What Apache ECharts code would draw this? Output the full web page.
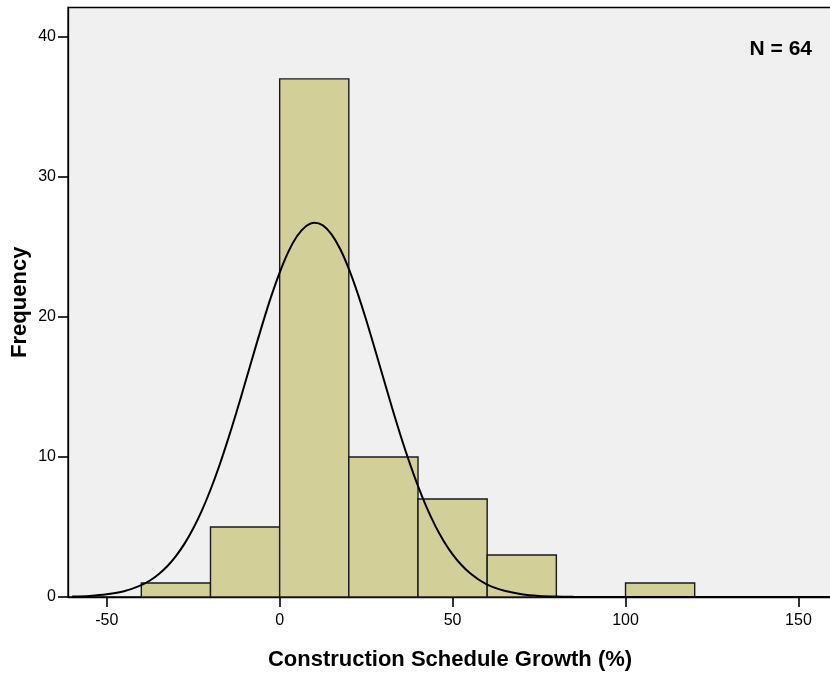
<!DOCTYPE html>
<html>
<head>
    <meta charset="utf-8">
    <title>Construction Schedule Growth</title>
    <script src="https://cdn.jsdelivr.net/npm/echarts@6/dist/echarts.min.js"></script>
    <style>
        html, body { margin: 0; padding: 0; background: #fff; }
    </style>
</head>
<body>
<div id="chart" style="width:830px;height:675px;"></div>
<script type="text/javascript">
    // histogram bins: [start, end] and frequency
    var binStart = [-40, -20, 0, 20, 40, 60, 100];
    var binEnd = [-20, 0, 20, 40, 60, 80, 120];
    var binCount = [1, 5, 37, 10, 7, 3, 1];

    // normal curve
    var curveX = [-60, -55, -50, -45, -40, -37.5, -35, -32.5, -30, -27.5, -25, -22.5, -20, -17.5, -15, -12.5, -10, -7.5, -5, -2.5,
        0, 2.5, 5, 7.5, 10, 12.5, 15, 17.5, 20, 22.5, 25, 27.5, 30, 32.5, 35, 37.5, 40, 42.5, 45, 47.5, 50, 52.5, 55, 57.5, 60, 62.5,
        65, 70, 75, 80, 85, 90, 100, 120, 140, 160];
    var curveY = [0.03, 0.08, 0.19, 0.41, 0.85, 1.18, 1.63, 2.2, 2.92, 3.81, 4.89, 6.17, 7.66, 9.34, 11.2, 13.19, 15.28, 17.4, 19.47, 21.43,
        23.17, 24.65, 25.76, 26.46, 26.73, 26.54, 25.9, 24.85, 23.43, 21.72, 19.8, 17.73, 15.62, 13.51, 11.5, 9.63, 7.92, 6.4, 5.08, 3.97, 3.05, 2.3, 1.71, 1.25, 0.89, 0.63,
        0.44, 0.2, 0.08, 0.03, 0.01, 0, 0, 0, 0, 0];

    var xTicks = [-50, 0, 50, 100, 150];
    var yTicks = [0, 10, 20, 30, 40];

    var bars = [];
    for (var i = 0; i < binCount.length; i++) {
        bars.push([binStart[i], binEnd[i], binCount[i]]);
    }
    var curve = [];
    for (var j = 0; j < curveX.length; j++) {
        curve.push([curveX[j], curveY[j]]);
    }

    var myChart = echarts.init(document.getElementById('chart'));
    var font = '"Liberation Sans", Arial, sans-serif';

    myChart.setOption({
        backgroundColor: '#ffffff',
        animation: false,
        grid: {
            left: 68, top: 7.5, right: -2, bottom: 78,
            outerBoundsMode: 'none',
            containLabel: false,
            show: true,
            backgroundColor: '#f0f0f0',
            borderColor: '#000',
            borderWidth: 1.3
        },
        xAxis: {
            type: 'value',
            min: -61.2,
            max: 159.7,
            name: 'Construction Schedule Growth (%)',
            nameLocation: 'middle',
            nameGap: 52,
            nameTextStyle: { fontFamily: font, fontSize: 22, fontWeight: 'bold', color: '#000' },
            splitLine: { show: false },
            axisLine: { show: true, onZero: false, lineStyle: { color: '#000', width: 1.3 } },
            axisTick: { show: true, length: 10, customValues: xTicks, lineStyle: { color: '#000', width: 1.6 } },
            axisLabel: { customValues: xTicks, margin: 16, fontFamily: font, fontSize: 16, color: '#000' }
        },
        yAxis: {
            type: 'value',
            min: 0,
            max: 42.1,
            name: 'Frequency',
            nameLocation: 'middle',
            nameGap: 37,
            nameMoveOverlap: false,
            nameTextStyle: { fontFamily: font, fontSize: 22, fontWeight: 'bold', color: '#000' },
            splitLine: { show: false },
            axisLine: { show: true, onZero: false, lineStyle: { color: '#000', width: 1.3 } },
            axisTick: { show: true, length: 10, customValues: yTicks, lineStyle: { color: '#000', width: 1.6 } },
            axisLabel: { customValues: yTicks, margin: 12, fontFamily: font, fontSize: 16, color: '#000' }
        },
        graphic: [{
            type: 'text',
            right: 18,
            top: 39,
            style: { text: 'N = 64', fontFamily: font, fontSize: 21, fontWeight: 'bold', fill: '#000' }
        }],
        series: [
            {
                type: 'custom',
                data: bars,
                encode: { x: [0, 1], y: 2 },
                renderItem: function (params, api) {
                    var p0 = api.coord([api.value(0), 0]);
                    var p1 = api.coord([api.value(1), api.value(2)]);
                    return {
                        type: 'rect',
                        shape: { x: p0[0], y: p1[1], width: p1[0] - p0[0], height: p0[1] - p1[1] },
                        style: { fill: '#d3cf98', stroke: '#1a1a1a', lineWidth: 1.4 }
                    };
                }
            },
            {
                type: 'line',
                data: curve,
                smooth: 0.3,
                symbol: 'none',
                z: 5,
                lineStyle: { color: '#000', width: 2 }
            }
        ]
    });
</script>
</body>
</html>
